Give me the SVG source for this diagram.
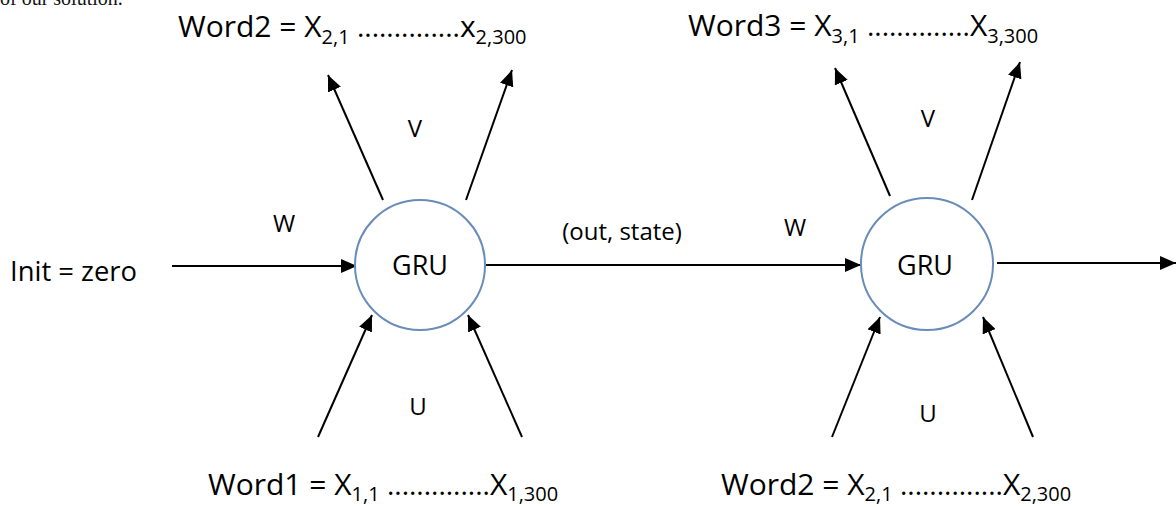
<svg xmlns="http://www.w3.org/2000/svg" width="1176" height="507" viewBox="0 0 1176 507">
<style>
.t{font-family:"Open Sans","Liberation Sans",sans-serif;fill:#000}
.w{font-size:30px}
.s{font-size:20px}
.d{font-size:28px}
.lbl{font-size:24px}
.g{font-size:27px}
.node{fill:#fff;stroke:#6a8cb8;stroke-width:2}
.c{stroke:#000;stroke-width:2;fill:none;marker-end:url(#ah)}
</style>
<defs>
<marker id="ah" markerUnits="userSpaceOnUse" markerWidth="18" markerHeight="14" refX="16" refY="7" orient="auto">
<path d="M0,0 L16,7 L0,14 Z" fill="#000"/>
</marker>
</defs>
<rect width="1176" height="507" fill="#fff"/>
<text x="0" y="5" style="font-family:'Liberation Serif',serif;font-size:20px;fill:#111">of our solution.</text>

<g id="connectors">
<line class="c" x1="172" y1="266" x2="357" y2="266"/>
<line class="c" x1="486" y1="265" x2="861" y2="265"/>
<line class="c" x1="997" y1="263" x2="1176" y2="263"/>
<line class="c" x1="383" y1="200" x2="328" y2="75"/>
<line class="c" x1="466" y1="200" x2="512" y2="70"/>
<line class="c" x1="318" y1="437" x2="372" y2="315"/>
<line class="c" x1="522" y1="437" x2="468" y2="315"/>
<line class="c" x1="890" y1="196" x2="835" y2="68"/>
<line class="c" x1="972" y1="200" x2="1020" y2="62"/>
<line class="c" x1="832" y1="437" x2="880" y2="317"/>
<line class="c" x1="1033" y1="437" x2="983" y2="317"/>
</g>

<g id="gru1">
<circle class="node" cx="420" cy="265" r="65"/>
<text class="t g" x="420" y="275" text-anchor="middle">GRU</text>
</g>
<g id="gru2">
<circle class="node" cx="927" cy="264" r="66"/>
<text class="t g" x="925" y="275" text-anchor="middle">GRU</text>
</g>

<g id="labels">
<text class="t g" x="10" y="281" textLength="127" lengthAdjust="spacingAndGlyphs">Init = zero</text>
<text class="t lbl" x="284" y="232" text-anchor="middle">W</text>
<text class="t lbl" x="415" y="137" text-anchor="middle">V</text>
<text class="t lbl" x="418" y="415" text-anchor="middle">U</text>
<text class="t lbl" x="622" y="240" text-anchor="middle">(out, state)</text>
<text class="t lbl" x="795" y="236" text-anchor="middle">W</text>
<text class="t lbl" x="928" y="127" text-anchor="middle">V</text>
<text class="t lbl" x="928" y="422" text-anchor="middle">U</text>
</g>

<g id="word2-top">
<text class="t w" x="178" y="37">Word2 = X<tspan class="s" dy="7">2,1</tspan><tspan class="d" dy="-7"> ..............</tspan>x<tspan class="s" dy="7">2,300</tspan></text>
</g>
<g id="word3-top">
<text class="t w" x="688" y="36">Word3 = X<tspan class="s" dy="7">3,1</tspan><tspan class="d" dy="-7"> ..............</tspan>X<tspan class="s" dy="7">3,300</tspan></text>
</g>
<g id="word1-bottom">
<text class="t w" x="208" y="495">Word1 = X<tspan class="s" dy="6">1,1</tspan><tspan class="d" dy="-6"> ..............</tspan>X<tspan class="s" dy="6">1,300</tspan></text>
</g>
<g id="word2-bottom">
<text class="t w" x="721" y="495">Word2 = X<tspan class="s" dy="6">2,1</tspan><tspan class="d" dy="-6"> ..............</tspan>X<tspan class="s" dy="6">2,300</tspan></text>
</g>
</svg>
